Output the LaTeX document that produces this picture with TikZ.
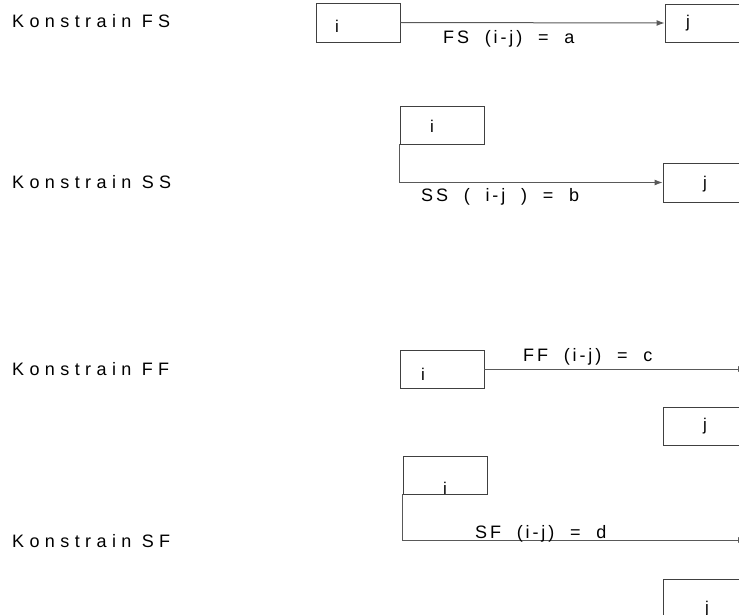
\documentclass[tikz,border=0pt]{standalone}
\usepackage{fontspec}
\setmainfont{Liberation Sans}
\newfontfamily\wide[LetterSpace=30]{Liberation Sans}
\newfontfamily\semiwide[LetterSpace=16,WordSpace=2.0]{Liberation Sans}
\usetikzlibrary{arrows.meta}
\tikzset{
  box/.style={draw=black!75, line width=0.9pt, rectangle, inner sep=0pt},
  conn/.style={draw=black!65, line width=1pt},
  tip/.style={-{Latex[length=8pt,width=6pt]}},
  title/.style={font=\fontsize{18}{21}\selectfont\wide, anchor=base west, inner sep=0pt},
  cond/.style={font=\fontsize{18}{21}\selectfont\semiwide, anchor=base west, inner sep=0pt},
  act/.style={font=\fontsize{17}{20}\selectfont, anchor=base, inner sep=0pt}
}
\begin{document}
\begin{tikzpicture}[x=1pt, y=-1pt]
\useasboundingbox (0,0) rectangle (739,615);
\clip (0,0) rectangle (739,615);

% left-hand titles
\node[title] (tFS) at (12,28) {Konstrain FS};
\node[title] (tSS) at (12,189) {Konstrain SS};
\node[title] (tFF) at (12,375) {Konstrain FF};
\node[title] (tSF) at (12,547) {Konstrain SF};

% finish-to-start
\node[box, minimum width=84pt, minimum height=39pt] (fsI) at (358,22.5) {};
\node[box, minimum width=100pt, minimum height=38pt] (fsJ) at (715,23) {};
\node[act] (fsIt) at (337,33) {i};
\node[act] (fsJt) at (688,28) {j};
\draw[conn, tip] (fsI.east) -- (fsJ.west);
\node[cond] (fsL) at (443,44) {FS (i-j) = a};

% start-to-start
\node[box, minimum width=84pt, minimum height=38pt] (ssI) at (442,125) {};
\node[box, minimum width=100pt, minimum height=39pt] (ssJ) at (713,182.5) {};
\node[act] (ssIt) at (432,133) {i};
\node[act] (ssJt) at (705,189) {j};
\draw[conn, tip] (ssI.south west) |- (ssJ.west);
\node[cond] (ssL) at (421,201) {SS ( i-j ) = b};

% finish-to-finish
\node[box, minimum width=84pt, minimum height=38pt] (ffI) at (442,369) {};
\node[box, minimum width=100pt, minimum height=38pt] (ffJ) at (713,426) {};
\node[act] (ffIt) at (423,380) {i};
\node[act] (ffJt) at (705,430) {j};
\coordinate (ffEnd) at (746,369);
\draw[conn, tip] (ffI.east) -- (ffEnd);
\node[cond] (ffL) at (523,361) {FF (i-j) = c};

% start-to-finish
\node[box, minimum width=84pt, minimum height=38pt] (sfI) at (445,475) {};
\node[box, minimum width=100pt, minimum height=60pt] (sfJ) at (713,609) {};
\node[act] (sfIt) at (445,494) {i};
\node[act] (sfJt) at (707,613) {j};
\coordinate (sfEnd) at (746,540);
\draw[conn, tip] (sfI.south west) |- (sfEnd);
\node[cond] (sfL) at (475,538) {SF (i-j) = d};
\end{tikzpicture}
\end{document}
